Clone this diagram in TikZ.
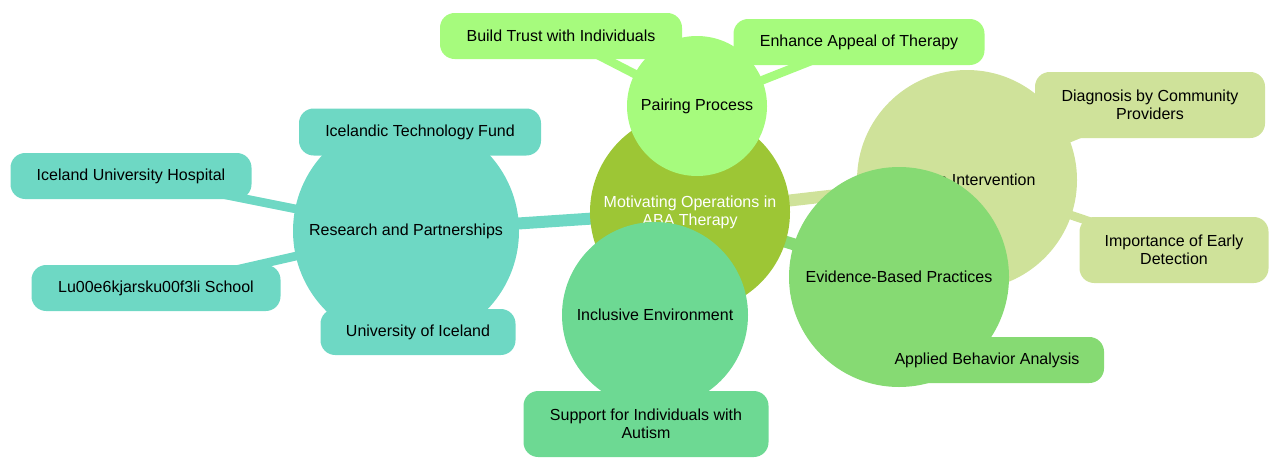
\documentclass[tikz,border=0pt]{standalone}
\usepackage{fontspec}
\setmainfont{Liberation Sans}
\begin{document}
\begin{tikzpicture}[x=0.75pt,y=-0.75pt,
  txt/.style={font=\fontsize{12}{13.5}\selectfont,align=center,text=black},
  circ/.style={circle,txt,inner sep=0pt,minimum size=#1*1.5pt},
  leaf/.style={rectangle,rounded corners=11pt,txt,inner sep=0pt,minimum height=#1*0.75pt},
  edgeA/.style={line width=9pt,draw=#1},
  edgeB/.style={line width=6.5pt,draw=#1}]
\useasboundingbox (0,0) rectangle (1280,468);
\definecolor{cC}{HTML}{9DC635}
\definecolor{cP}{HTML}{A6FB7D}
\definecolor{cA}{HTML}{CFE29A}
\definecolor{cE}{HTML}{86DA73}
\definecolor{cI}{HTML}{6DD993}
\definecolor{cR}{HTML}{6ED8C4}
\coordinate (C) at (690,212);
\coordinate (P) at (697,106);
\coordinate (A) at (967,180);
\coordinate (E) at (899,277);
\coordinate (I) at (655,315);
\coordinate (R) at (406,231);
\coordinate (p1) at (561,36);
\coordinate (p2) at (859,42);
\coordinate (a1) at (1150,105);
\coordinate (a2) at (1174,250);
\coordinate (e1) at (987,360);
\coordinate (i1) at (646,424);
\coordinate (r1) at (420,132);
\coordinate (r2) at (131,176);
\coordinate (r3) at (156,288);
\coordinate (r4) at (418,332);
% edges
\draw[edgeA=cP] (C)--(P);
\draw[edgeA=cA] (C)--(A);
\draw[edgeA=cE] (C)--(E);
\draw[edgeA=cI] (C)--(I);
\draw[edgeA=cR] (C)--(R);
\draw[edgeB=cP] (P)--(p1);
\draw[edgeB=cP] (P)--(p2);
\draw[edgeB=cA] (A)--(a1);
\draw[edgeB=cA] (A)--(a2);
\draw[edgeB=cE] (E)--(e1);
\draw[edgeB=cI] (I)--(i1);
\draw[edgeB=cR] (R)--(r1);
\draw[edgeB=cR] (R)--(r2);
\draw[edgeB=cR] (R)--(r3);
\draw[edgeB=cR] (R)--(r4);
% nodes
\node[circ=100,fill=cC,text=white] (nC) at (C) {Motivating Operations in\\ABA Therapy};
\node[circ=70,fill=cP] (nP) at (P) {Pairing Process};
\node[leaf=46,fill=cP,minimum width=242*0.75pt] (np1) at (p1) {Build Trust with Individuals};
\node[leaf=46,fill=cP,minimum width=251*0.75pt] (np2) at (p2) {Enhance Appeal of Therapy};
\node[circ=110,fill=cA] (nA) at (A) {Autism Intervention};
\node[leaf=66,fill=cA,minimum width=230*0.75pt] (na1) at (a1) {Diagnosis by Community\\Providers};
\node[leaf=66,fill=cA,minimum width=189*0.75pt] (na2) at (a2) {Importance of Early\\Detection};
\node[circ=110,fill=cE] (nE) at (E) {Evidence-Based Practices};
\node[leaf=46,fill=cE,minimum width=234*0.75pt] (ne1) at (e1) {Applied Behavior Analysis};
\node[circ=93,fill=cI] (nI) at (I) {Inclusive Environment};
\node[leaf=66,fill=cI,minimum width=245*0.75pt] (ni1) at (i1) {Support for Individuals with\\Autism};
\node[circ=113,fill=cR] (nR) at (R) {Research and Partnerships};
\node[leaf=47,fill=cR,minimum width=242*0.75pt] (nr1) at (r1) {Icelandic Technology Fund};
\node[leaf=46,fill=cR,minimum width=241*0.75pt] (nr2) at (r2) {Iceland University Hospital};
\node[leaf=46,fill=cR,minimum width=249*0.75pt] (nr3) at (r3) {Lu00e6kjarsku00f3li School};
\node[leaf=46,fill=cR,minimum width=195*0.75pt] (nr4) at (r4) {University of Iceland};
\end{tikzpicture}
\end{document}
